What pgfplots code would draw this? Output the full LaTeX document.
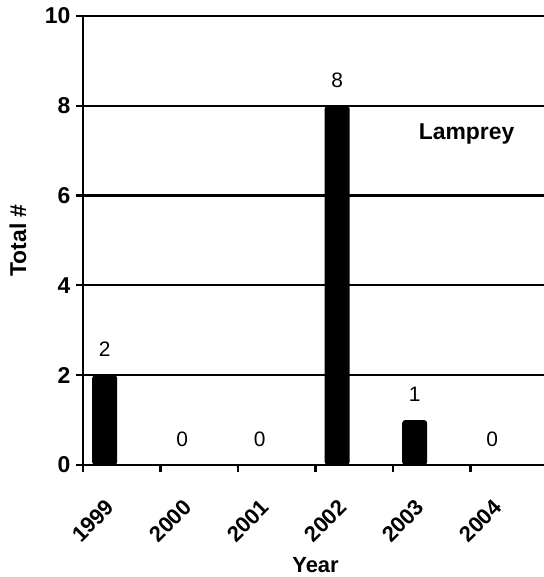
\documentclass[border=0pt]{standalone}
\usepackage{fontspec}
\setmainfont{Liberation Sans}
\usepackage{pgfplots}
\pgfplotsset{compat=1.18}
\begin{document}
\begin{tikzpicture}
\begin{axis}[
  scale only axis, width=465bp, height=449bp,
  xmin=0, xmax=6, ymin=0, ymax=10,
  axis x line*=bottom, axis y line*=left,
  axis line style={-, line width=2.2bp, black},
  /pgf/number format/assume math mode=true,
  xtick={0,1,2,3,4,5}, xticklabels={},
  extra x ticks={0.28,1.28,2.28,3.28,4.28,5.28},
  extra x tick labels={1999,2000,2001,2002,2003,2004},
  extra x tick style={grid=none, major tick length=0pt,
    tick label style={yshift=-33bp, rotate=45, anchor=north east, inner sep=0pt, font=\fontsize{22}{26}\selectfont\bfseries}},
  ytick={0,2,4,6,8,10},
  ymajorgrids, major grid style={black, line width=2.2bp},
  tick align=outside, major tick length=7bp,
  tick style={black, line width=2.2bp},
  yticklabel style={font=\fontsize{23}{27}\selectfont\bfseries, xshift=-2bp},
  xlabel={Year}, ylabel={Total \#},
  every axis x label/.style={at={(axis description cs:0.5,0)}, anchor=center, yshift=-100bp, font=\fontsize{22}{26}\selectfont\bfseries},
  every axis y label/.style={at={(axis description cs:0,0.5)}, xshift=-65bp, rotate=90, anchor=center, font=\fontsize{23}{27}\selectfont\bfseries},
  nodes near coords style={font=\fontsize{21}{25}\selectfont, anchor=south, yshift=15bp, rounded corners=0pt},
  clip=false,
]
% non-zero years
\addplot[ybar, bar width=25bp, fill=black, draw=none, rounded corners=3bp,
  nodes near coords]
  coordinates {(0.28,2) (3.28,8) (4.28,1)};
% zero years (no visible bar)
\addplot[only marks, mark=none, draw=none, nodes near coords]
  coordinates {(1.28,0) (2.28,0) (5.28,0)};
\node[font=\fontsize{23}{27}\selectfont\bfseries] at (axis cs:4.95,7.37) {Lamprey};
\end{axis}
\path (current axis.south west) ++(-83bp,-112bp) coordinate (bbA) ++(544bp,577bp) coordinate (bbB);
\pgfresetboundingbox
\useasboundingbox (bbA) rectangle (bbB);
\end{tikzpicture}
\end{document}
